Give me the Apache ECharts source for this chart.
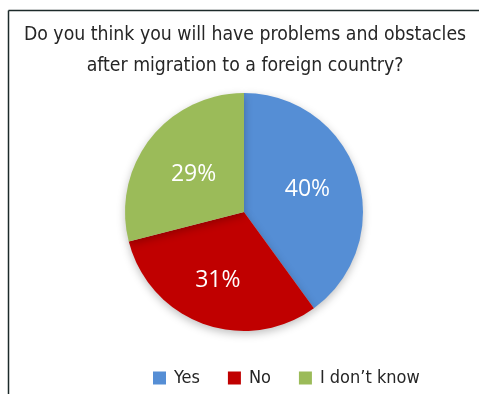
<!DOCTYPE html>
<html>
<head>
<meta charset="utf-8">
<script src="https://cdn.jsdelivr.net/npm/echarts@6/dist/echarts.min.js"></script>
<style>
  html, body { margin: 0; padding: 0; background: #fff; }
  #container { width: 479px; height: 394px; }
</style>
</head>
<body>
<div id="container"></div>
<script>
var titleLines = ['Do you think you will have problems and obstacles', 'after migration to a foreign country?'];
var categories = ['Yes', 'No', 'I don\u2019t know'];
var values = [40, 31, 29];
var colors = ['#558ed5', '#c00000', '#9bbb59'];

var font = '"DejaVu Sans Condensed", "Liberation Sans Narrow", sans-serif';

var dom = document.getElementById('container');
var myChart = echarts.init(dom);

// little nudges so the percent labels sit where the original puts them
var labelOffsets = [[4, -3], [-5, 10], [-1, 1]];

var pieData = [];
for (var i = 0; i < categories.length; i++) {
    pieData.push({
        name: categories[i],
        value: values[i],
        itemStyle: { color: colors[i] },
        label: { offset: labelOffsets[i] }
    });
}

var option = {
    animation: false,
    color: colors,
    legend: {
        left: 148,
        top: 364,
        itemWidth: 13,
        itemHeight: 13,
        itemGap: 28,
        icon: 'rect',
        textStyle: { fontFamily: font, fontSize: 18, color: '#262626', padding: [0, 0, 0, 3] },
        data: categories
    },
    graphic: [
        { type: 'line', shape: { x1: 8.5, y1: 10.5, x2: 479, y2: 10.5 }, style: { stroke: '#1c2a2a', lineWidth: 1.5 } },
        { type: 'line', shape: { x1: 8.5, y1: 10.5, x2: 8.5, y2: 394 }, style: { stroke: '#1c2a2a', lineWidth: 1.5 } },
        {
            type: 'text', x: 245, y: 35,
            style: { text: titleLines[0], align: 'center', verticalAlign: 'middle', font: 'normal 19.3px ' + font, fill: '#262626' }
        },
        {
            type: 'text', x: 245, y: 66,
            style: { text: titleLines[1], align: 'center', verticalAlign: 'middle', font: 'normal 19.3px ' + font, fill: '#262626' }
        }
    ],
    series: [{
        type: 'pie',
        center: [244, 212],
        radius: 119,
        startAngle: 90,
        clockwise: true,
        label: {
            position: 'inside',
            formatter: '{c}%',
            fontFamily: '"Open Sans", sans-serif',
            fontSize: 23,
            color: '#fff'
        },
        labelLine: { show: false },
        itemStyle: {
            shadowBlur: 8,
            shadowOffsetY: 3,
            shadowColor: 'rgba(0,0,0,0.25)'
        },
        data: pieData
    }]
};
myChart.setOption(option);
</script>
</body>
</html>
